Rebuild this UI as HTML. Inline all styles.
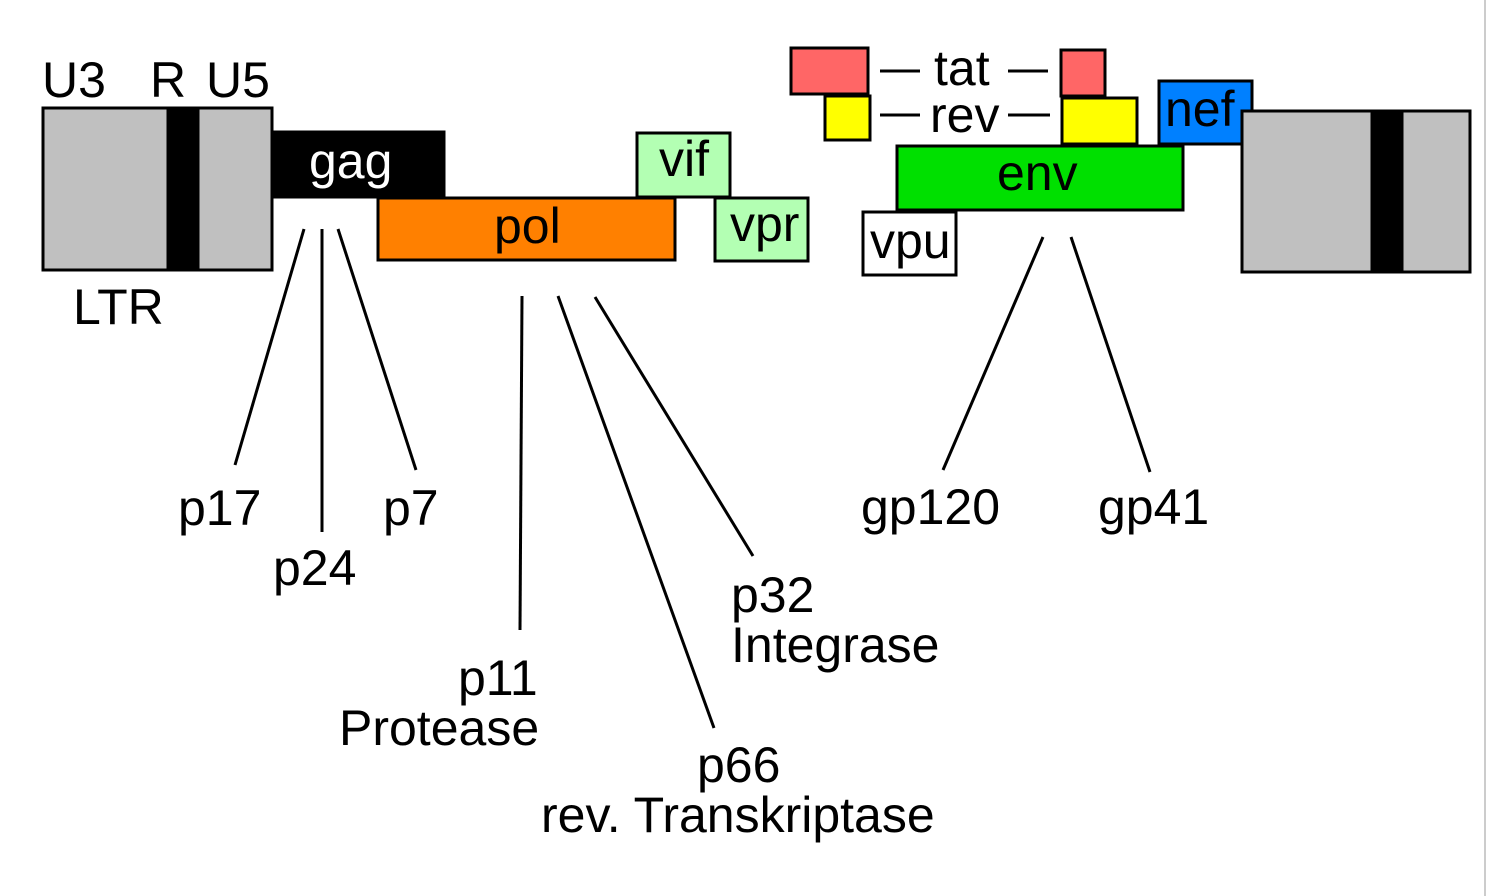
<!DOCTYPE html>
<html><head><style>body{margin:0;background:#fff}svg{display:block}</style></head>
<body>
<svg width="1488" height="896" xmlns="http://www.w3.org/2000/svg" font-family="Liberation Sans, Arial, sans-serif" font-size="50">
<rect width="1488" height="896" fill="#fff"/>
<line x1="1485" y1="0" x2="1485" y2="896" stroke="#ccc" stroke-width="2"/>
<g stroke="#000" stroke-width="3">
<rect x="43" y="108" width="229" height="162" fill="#c0c0c0"/>
<rect x="168" y="108" width="30" height="162" fill="#000"/>
<rect x="273" y="132" width="171" height="65" fill="#000"/>
<rect x="378" y="198" width="297" height="62" fill="#ff8000"/>
<rect x="637" y="133" width="93" height="64" fill="#b3ffb3"/>
<rect x="715" y="198" width="93" height="63" fill="#b3ffb3"/>
<rect x="791" y="48" width="77" height="46" fill="#ff6666"/>
<rect x="1061" y="50" width="44" height="46" fill="#ff6666"/>
<rect x="825" y="96" width="45" height="44" fill="#ffff00"/>
<rect x="1062" y="98" width="75" height="46" fill="#ffff00"/>
<rect x="1159" y="81" width="93" height="63" fill="#0080ff"/>
<rect x="897" y="146" width="286" height="64" fill="#00e000"/>
<rect x="863" y="212" width="93" height="63" fill="#fff"/>
<rect x="1242" y="111" width="228" height="161" fill="#c0c0c0"/>
<rect x="1372" y="111" width="30" height="161" fill="#000"/>
<line x1="880" y1="71" x2="920" y2="71"/>
<line x1="1008" y1="71" x2="1048" y2="71"/>
<line x1="880" y1="115" x2="920" y2="115"/>
<line x1="1008" y1="115" x2="1050" y2="115"/>
<line x1="304" y1="229" x2="235" y2="465"/>
<line x1="322" y1="229" x2="322" y2="532"/>
<line x1="338" y1="229" x2="416" y2="470"/>
<line x1="522" y1="296" x2="520" y2="630"/>
<line x1="558" y1="296" x2="714" y2="728"/>
<line x1="595" y1="297" x2="753" y2="556"/>
<line x1="1043" y1="237" x2="943" y2="470"/>
<line x1="1071" y1="237" x2="1150" y2="472"/>
</g>
<g fill="#000">
<text x="42" y="97">U3</text>
<text x="150" y="97">R</text>
<text x="206" y="97">U5</text>
<text x="73" y="324">LTR</text>
<text x="309" y="178" fill="#fff">gag</text>
<text x="494" y="243">pol</text>
<text x="659" y="176">vif</text>
<text x="730" y="241">vpr</text>
<text x="934" y="85">tat</text>
<text x="930" y="132">rev</text>
<text x="1165" y="126">nef</text>
<text x="997" y="190">env</text>
<text x="870" y="258">vpu</text>
<text x="178" y="525">p17</text>
<text x="273" y="585">p24</text>
<text x="383" y="525">p7</text>
<text x="458" y="695">p11</text>
<text x="339" y="745">Protease</text>
<text x="697" y="782">p66</text>
<text x="541" y="832">rev. Transkriptase</text>
<text x="731" y="612">p32</text>
<text x="731" y="662">Integrase</text>
<text x="861" y="524">gp120</text>
<text x="1098" y="524">gp41</text>
</g>
</svg>
</body></html>
